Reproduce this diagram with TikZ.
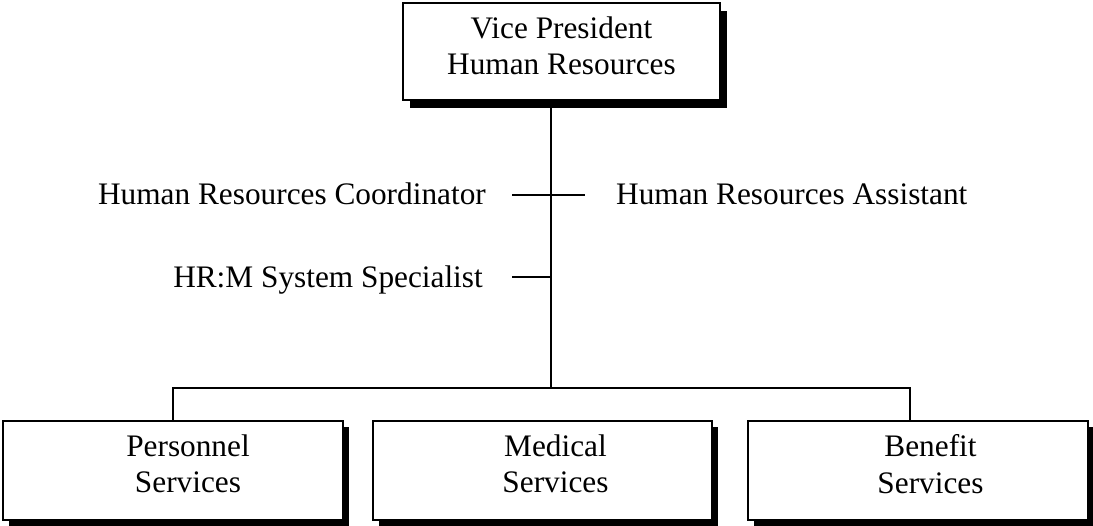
\documentclass[tikz,border=0pt]{standalone}
\usepackage{fontspec}
\setmainfont{Liberation Serif}
\usetikzlibrary{shadows}
\begin{document}
\begin{tikzpicture}[x=1pt,y=-1pt,
  orgbox/.style={draw=black, fill=white, line width=1.5pt, inner sep=0pt, rectangle},
  topshadow/.style={drop shadow={shadow xshift=7pt, shadow yshift=-8pt, opacity=1, fill=black}},
  botshadow/.style={drop shadow={shadow xshift=6pt, shadow yshift=-6pt, opacity=1, fill=black}},
  boxtext/.style={align=center, inner sep=0pt, font=\fontsize{31.3}{36.5}\selectfont},
  sidetext/.style={inner sep=0pt, font=\fontsize{31.3}{36.5}\selectfont},
  conn/.style={line width=1.5pt}]
\useasboundingbox (0,0) rectangle (1093,526);
% boxes
\node[orgbox, topshadow, minimum width=317pt, minimum height=97pt] (vp) at (561.5,51.5) {};
\node[boxtext] (vpt) at (561.5,46) {Vice President\\Human Resources};
\node[orgbox, botshadow, minimum width=340pt, minimum height=99pt] (pers) at (173,470.5) {};
\node[boxtext] (perst) at (188,464) {Personnel\\Services};
\node[orgbox, botshadow, minimum width=339pt, minimum height=99pt] (med) at (542.5,470.5) {};
\node[boxtext] (medt) at (555.5,464) {Medical\\Services};
\node[orgbox, botshadow, minimum width=340pt, minimum height=99pt] (ben) at (918,470.5) {};
\node[boxtext] (bent) at (930.5,464) {Benefit\\Services};
% staff labels
\node[sidetext, anchor=base east] (coord) at (486,205) {Human Resources Coordinator};
\node[sidetext, anchor=base west] (assist) at (616,205) {Human Resources Assistant};
\node[sidetext, anchor=base east] (hrm) at (483,288) {HR:M System Specialist};
% coordinates
\coordinate (j) at (551,388);
\coordinate (bj) at (910,388);
\coordinate (tl) at (512,195);
\coordinate (tr) at (585,195);
\coordinate (hl) at (512,277);
% connectors
\draw[conn] (vp.south -| j) -- (j);
\draw[conn] (pers.north) |- (j) -- (bj) -- (bj |- ben.north);
\draw[conn] (tl) -- (tr);
\draw[conn] (hl) -- (hl -| j);
\end{tikzpicture}
\end{document}
